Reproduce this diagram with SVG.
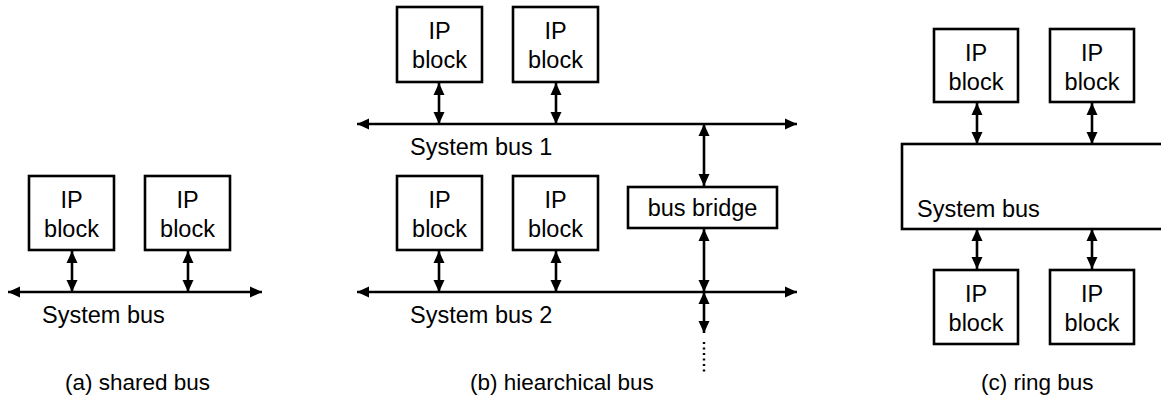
<svg xmlns="http://www.w3.org/2000/svg" width="1161" height="405" viewBox="0 0 1161 405">
  <defs>
    <marker id="arrow" viewBox="0 0 12 12" refX="12" refY="6" markerWidth="12" markerHeight="12" markerUnits="userSpaceOnUse" orient="auto-start-reverse">
      <path d="M0,0.5 L12,6 L0,11.5 Z" fill="#000"/>
    </marker>
    <style>
      .box { fill: #fff; stroke: #000; stroke-width: 2.6; }
      .lbl { font-family: "Liberation Sans", Arial, sans-serif; font-size: 23.5px; fill: #000; }
      .cap { font-family: "Liberation Sans", Arial, sans-serif; font-size: 22.5px; fill: #000; }
      .mid { text-anchor: middle; }
      .link { stroke: #000; stroke-width: 2.6; fill: none; marker-start: url(#arrow); marker-end: url(#arrow); }
      .dots { stroke: #000; stroke-width: 2.4; fill: none; stroke-dasharray: 2 3.5; }
    </style>
  </defs>

  <!-- (a) shared bus -->
  <g id="a-ip1">
    <rect class="box" x="29" y="176" width="85" height="74"/>
    <text class="lbl mid" x="71.5" y="208">IP</text>
    <text class="lbl mid" x="71.5" y="237">block</text>
  </g>
  <g id="a-ip2">
    <rect class="box" x="145" y="176" width="85" height="74"/>
    <text class="lbl mid" x="187.5" y="208">IP</text>
    <text class="lbl mid" x="187.5" y="237">block</text>
  </g>
  <g id="a-bus">
    <text class="lbl" x="42" y="323">System bus</text>
  </g>

  <!-- (b) hierarchical bus -->
  <g id="b-ip1">
    <rect class="box" x="397" y="7" width="85" height="75"/>
    <text class="lbl mid" x="439.5" y="39">IP</text>
    <text class="lbl mid" x="439.5" y="68">block</text>
  </g>
  <g id="b-ip2">
    <rect class="box" x="513" y="7" width="85" height="75"/>
    <text class="lbl mid" x="555.5" y="39">IP</text>
    <text class="lbl mid" x="555.5" y="68">block</text>
  </g>
  <g id="b-bus1">
    <text class="lbl" x="410" y="155">System bus 1</text>
  </g>
  <g id="b-ip3">
    <rect class="box" x="397" y="176" width="85" height="74"/>
    <text class="lbl mid" x="439.5" y="208">IP</text>
    <text class="lbl mid" x="439.5" y="237">block</text>
  </g>
  <g id="b-ip4">
    <rect class="box" x="513" y="176" width="85" height="74"/>
    <text class="lbl mid" x="555.5" y="208">IP</text>
    <text class="lbl mid" x="555.5" y="237">block</text>
  </g>
  <g id="b-bridge">
    <rect class="box" x="628" y="187" width="149" height="41"/>
    <text class="lbl mid" x="702.5" y="216">bus bridge</text>
  </g>
  <g id="b-bus2">
    <text class="lbl" x="410" y="323">System bus 2</text>
  </g>

  <!-- (c) ring bus -->
  <g id="c-ip1">
    <rect class="box" x="934" y="29" width="84" height="73"/>
    <text class="lbl mid" x="976" y="61">IP</text>
    <text class="lbl mid" x="976" y="90">block</text>
  </g>
  <g id="c-ip2">
    <rect class="box" x="1050" y="29" width="84" height="73"/>
    <text class="lbl mid" x="1092" y="61">IP</text>
    <text class="lbl mid" x="1092" y="90">block</text>
  </g>
  <g id="c-ring">
    <rect class="box" x="902" y="144" width="300" height="85"/>
    <text class="lbl" x="917" y="217">System bus</text>
  </g>
  <g id="c-ip3">
    <rect class="box" x="934" y="270" width="84" height="74"/>
    <text class="lbl mid" x="976" y="302">IP</text>
    <text class="lbl mid" x="976" y="331">block</text>
  </g>
  <g id="c-ip4">
    <rect class="box" x="1050" y="270" width="84" height="74"/>
    <text class="lbl mid" x="1092" y="302">IP</text>
    <text class="lbl mid" x="1092" y="331">block</text>
  </g>

  <!-- connectors -->
  <g id="connectors">
    <!-- (a) -->
    <path class="link" d="M8,292 H262"/>
    <path class="link" d="M72,251 V292"/>
    <path class="link" d="M188,251 V292"/>
    <!-- (b) -->
    <path class="link" d="M357,124 H797"/>
    <path class="link" d="M439,83 V124"/>
    <path class="link" d="M556,83 V124"/>
    <path class="link" d="M704,124 V186"/>
    <path class="link" d="M357,292 H797"/>
    <path class="link" d="M439,251 V292"/>
    <path class="link" d="M556,251 V292"/>
    <path class="link" d="M704,229 V292"/>
    <path class="link" d="M704,292 V333"/>
    <path class="dots" d="M704,342 V372"/>
    <!-- (c) -->
    <path class="link" d="M977,103 V144"/>
    <path class="link" d="M1092,103 V144"/>
    <path class="link" d="M977,229 V269"/>
    <path class="link" d="M1092,229 V269"/>
  </g>

  <!-- captions -->
  <g id="captions">
    <text class="cap" x="65" y="390">(a) shared bus</text>
    <text class="cap" x="470" y="390">(b) hiearchical bus</text>
    <text class="cap" x="981" y="390">(c) ring bus</text>
  </g>
</svg>
